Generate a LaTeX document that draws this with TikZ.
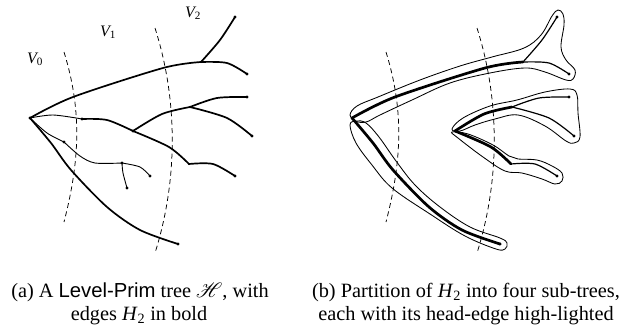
\documentclass[tikz,border=0pt]{standalone}
\usepackage{fontspec}
\setmainfont{Liberation Serif}
\newfontfamily\lpsans{Liberation Sans}
\usepackage{mathrsfs}
\newcommand\mktree[1]{%
 \coordinate (#1R) at (30,118);
 \coordinate (#1A) at (201,62);
 \coordinate (#1T) at (235,17);
 \coordinate (#1E1) at (247,74);
 \coordinate (#1Z) at (178,244);
 \coordinate (#1N1) at (82,119);
 \coordinate (#1B) at (133,131);
 \coordinate (#1C) at (190,107);
 \coordinate (#1E2) at (247,97);
 \coordinate (#1E3) at (252,136);
 \coordinate (#1D) at (189,164);
 \coordinate (#1E4) at (235,176);
 \coordinate (#1N2) at (64,142);
 \coordinate (#1E) at (122,163);
 \coordinate (#1E5) at (150,176);
 \coordinate (#1E6) at (127,188);
}
\newcommand\levellines{%
 \draw[levelline] (64,52) .. controls (82,110) and (80,160) .. (64,222);
 \draw[levelline] (155,28) .. controls (178,100) and (178,180) .. (155,253);
}
\tikzset{
 thickedge/.style={line width=1.7pt,line cap=round,line join=round},
 thinedge/.style={line width=0.9pt,line cap=round,line join=round},
 headedge/.style={line width=2.7pt,line cap=round,line join=round},
 normedge/.style={line width=1.2pt,line cap=round,line join=round},
 outline/.style={line width=0.85pt},
 levelline/.style={line width=0.75pt,dash pattern=on 5pt off 3.5pt},
 vlabel/.style={font=\fontsize{16}{18}\selectfont\itshape,inner sep=0pt,anchor=base west},
 caption/.style={font=\fontsize{20.3}{23}\selectfont,inner sep=0pt,anchor=base},
}
\begin{document}
\begin{tikzpicture}[x=1pt,y=-1pt]
\useasboundingbox (0,0) rectangle (624,332);
% ---------- panel (a)
\begin{scope}
 \mktree{a}
 \levellines
 \draw[thickedge] plot[smooth] coordinates {(aR) (73,97) (163,68) (aA)};
 \draw[thickedge] plot[smooth] coordinates {(aA) (220,40) (aT)};
 \draw[thickedge] plot[smooth] coordinates {(aA) (227,63) (aE1)};
 \draw[thickedge] plot[smooth] coordinates {(aR) (51,143) (71,170) (107,207) (140,230) (aZ)};
 \draw[thinedge] plot[smooth] coordinates {(aR) (53,115) (aN1)};
 \draw[thickedge] plot[smooth] coordinates {(aN1) (107,120) (aB)};
 \draw[thickedge] plot[smooth] coordinates {(aB) (162,114) (aC)};
 \draw[thickedge] plot[smooth] coordinates {(aC) (217,98) (aE2)};
 \draw[thickedge] plot[smooth] coordinates {(aC) (227,118) (aE3)};
 \draw[thickedge] plot[smooth] coordinates {(aB) (169,147) (aD)};
 \draw[thickedge] plot[smooth] coordinates {(aD) (213,164) (aE4)};
 \draw[thinedge] plot[smooth] coordinates {(aR) (47,133) (aN2)};
 \draw[thinedge] plot[smooth] coordinates {(aN2) (80,156) (95,163) (aE)};
 \draw[thinedge] plot[smooth] coordinates {(aE) (140,167) (aE5)};
 \draw[thinedge] plot[smooth] coordinates {(aE) (123,173) (aE6)};
 \foreach \p in {aR,aT,aE1,aZ,aE2,aE3,aE4,aE5,aE6,aN1,aN2,aB,aE}
   \fill (\p) circle (1.6);
 \foreach \p in {aA,aC,aD}
   \fill (\p) circle (1.2);
 \node[vlabel] (v0) at (27,63) {V\textsubscript{\upshape 0}};
 \node[vlabel] (v1) at (100,36) {V\textsubscript{\upshape 1}};
 \node[vlabel] (v2) at (185,17) {V\textsubscript{\upshape 2}};
\end{scope}
% ---------- panel (b)
\begin{scope}[xshift=322pt]
 \mktree{b}
 \levellines
 \draw[headedge] plot[smooth] coordinates {(bR) (73,97) (163,68) (bA)};
 \draw[normedge] plot[smooth] coordinates {(bA) (220,40) (bT)};
 \draw[normedge] plot[smooth] coordinates {(bA) (227,63) (bE1)};
 \draw[headedge] plot[smooth] coordinates {(bR) (51,143) (71,170) (107,207) (140,230) (bZ)};
 \draw[headedge] plot[smooth] coordinates {(bB) (162,114) (bC)};
 \draw[normedge] plot[smooth] coordinates {(bC) (217,98) (bE2)};
 \draw[normedge] plot[smooth] coordinates {(bC) (227,118) (bE3)};
 \draw[headedge] plot[smooth] coordinates {(bB) (169,147) (bD)};
 \draw[normedge] plot[smooth] coordinates {(bD) (213,164) (bE4)};
 \foreach \p in {bT,bE1,bZ,bE2,bE3,bE4}
   \fill (\p) circle (1.6);
\end{scope}
% outlines of the four sub-trees
\draw[outline] plot[smooth cycle,tension=0.6] coordinates {
 (350,115) (357,106) (378,97) (420,80) (460,66) (492,57) (524,48) (541,35)
 (552,16) (558,10) (563,14) (564,25) (561,47) (566,60) (575,70) (573,79)
 (566,80) (545,72) (525,68) (490,73) (450,83) (412,100) (380,115) (366,122) (355,121)};
\draw[outline] plot[smooth cycle,tension=0.6] coordinates {
 (356,121) (366,123) (379,137) (396,161) (415,185) (440,207) (470,227) (500,238)
 (507,243) (505,249) (496,249) (465,236) (430,214) (392,188) (372,165) (356,143) (350,125)};
\draw[outline] plot[smooth cycle,tension=0.6] coordinates {
 (452,129) (463,118) (490,106) (517,100) (545,92) (570,89) (577,95) (578,113)
 (580,137) (574,143) (566,141) (545,126) (518,115) (495,119) (475,125) (460,131)};
\draw[outline] plot[smooth cycle,tension=0.6] coordinates {
 (452,132) (458,138) (483,157) (505,171) (522,173) (542,179) (555,184) (562,181)
 (562,173) (552,166) (537,160) (518,159) (509,156) (493,145) (468,134)};
% captions
\node[caption] (capa1) at (140,297) {(a) A {\lpsans Level-Prim} tree $\mathscr{H}$, with};
\node[caption] (capa2) at (139,320) {edges \textit{H}\textsubscript{2} in bold};
\node[caption] (capb1) at (466,297) {(b) Partition of \textit{H}\textsubscript{2} into four sub-trees,};
\node[caption] (capb2) at (466,320) {each with its head-edge high-lighted};
\end{tikzpicture}
\end{document}
